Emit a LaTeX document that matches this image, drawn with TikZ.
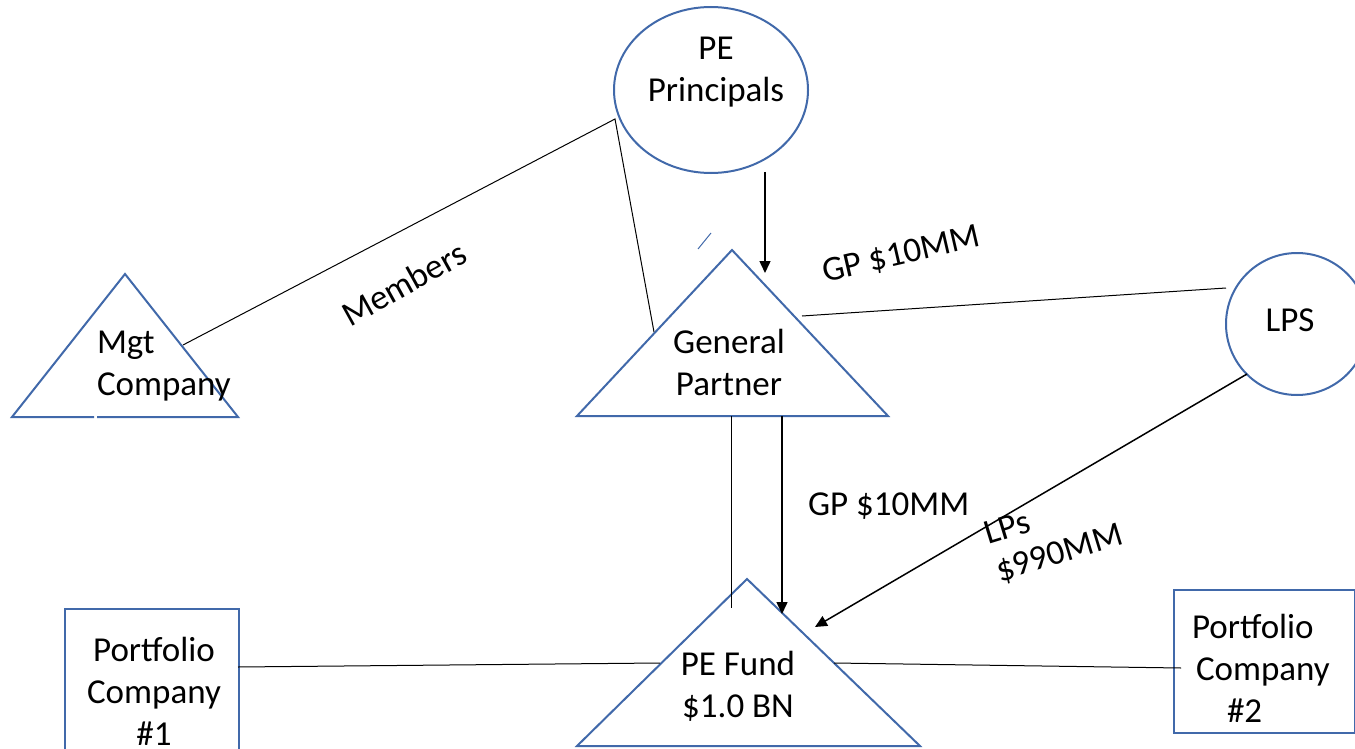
\documentclass[tikz,border=0pt]{standalone}
\usepackage{fontspec}
\setmainfont{Carlito}
\usetikzlibrary{shapes.geometric,arrows.meta}
\definecolor{shapeblue}{HTML}{4169AA}
\tikzset{
  shapeline/.style={draw=shapeblue, line width=2pt, line join=miter},
  conn/.style={draw=black, line width=1pt},
  arr/.style={draw=black, line width=1.5pt, -{Triangle[length=12pt,width=11pt]}},
  lbl/.style={inner sep=0pt, outer sep=0pt, font=\fontsize{35}{42}\selectfont},
}
\begin{document}
\begin{tikzpicture}[x=1pt,y=-1pt]
\useasboundingbox (0,0) rectangle (1355,749);
\clip (0,0) rectangle (1355,749);

% ---- shapes ----
\node[ellipse, shapeline, minimum width=194pt, minimum height=166pt, inner sep=0pt] (pep) at (711,90) {};
\node[circle, shapeline, minimum size=142pt, inner sep=0pt] (lps) at (1297,324) {};
\draw[shapeline] (94,417) -- (12,417) -- (125,274) -- (238,417) -- (97,417);
\draw[shapeline] (732,250) -- (888,416) -- (577,416) -- cycle;
\draw[shapeline] (747,579) -- (920,746) -- (577,746) -- cycle;
\draw[draw=shapeblue, line width=1pt] (698,249) -- (711,233);
\node[draw=shapeblue, line width=2pt, minimum width=174pt, minimum height=160pt, inner sep=0pt, anchor=north west] (pc1) at (64,608) {};
\node[draw=shapeblue, line width=2pt, minimum width=181pt, minimum height=143pt, inner sep=0pt, anchor=north west] (pc2) at (1173,589) {};

% ---- texts (base anchor = baseline of the last line) ----
\node[lbl, align=center, anchor=base] (peptext) at (716,102) {PE\\Principals};
\node[lbl, anchor=base] (lpstext) at (1290,331) {LPS};
\node[lbl, align=left, anchor=base west] (mgt) at (97,395) {Mgt\\Company};
\node[lbl, align=center, anchor=base] (gp) at (729,395) {General\\Partner};
\node[lbl, align=center, anchor=base] (fund) at (738,717) {PE Fund\\\$1.0 BN};
\node[lbl, align=center, anchor=base] (pc1text) at (154,745) {Portfolio\\Company\\\#1};
\node[lbl, align=left, anchor=base west] (pc2text) at (1192,722) {Portfolio\\\hspace*{4pt}Company\\\hspace*{35pt}\#2};

\node[lbl, rotate=29, anchor=base west] (members) at (350,327) {Members};
\node[lbl, rotate=13, anchor=base west] (gptop) at (825,282) {GP \$10MM};
\node[lbl, anchor=base west] (gpmid) at (808,515) {GP \$10MM};
\node[lbl, rotate=17, align=left, anchor=base west, font=\fontsize{35}{39}\selectfont] (lpslbl) at (1000,582) {LPs\\\$990MM};

% ---- connector end points ----
\coordinate (mgtR) at (183,345);
\coordinate (pepL) at (615,119);
\coordinate (gpL) at (654,332);
\coordinate (pepB) at (765,172);
\coordinate (gpTop) at (765,273);
\coordinate (gpR) at (802,316);
\coordinate (lpsL) at (1226,288);
\coordinate (gpB1) at (731,416);
\coordinate (fundT1) at (731,608);
\coordinate (gpB2) at (782,416);
\coordinate (fundT2) at (782,614);
\coordinate (lpsB) at (1247,374);
\coordinate (fundR) at (815,627);
\coordinate (pc1R) at (238,667);
\coordinate (fundL) at (660,663);
\coordinate (fundE) at (834,663);
\coordinate (pc2L) at (1181,668);

% ---- connectors ----
\draw[conn] (mgtR) -- (pepL) -- (gpL);
\draw[arr] (pepB) -- (gpTop);
\draw[conn] (gpR) -- (lpsL);
\draw[conn] (gpB1) -- (fundT1);
\draw[arr] (gpB2) -- (fundT2);
\draw[arr] (lpsB) -- (fundR);
\draw[conn] (pc1R) -- (fundL);
\draw[conn] (fundE) -- (pc2L);
\end{tikzpicture}
\end{document}
